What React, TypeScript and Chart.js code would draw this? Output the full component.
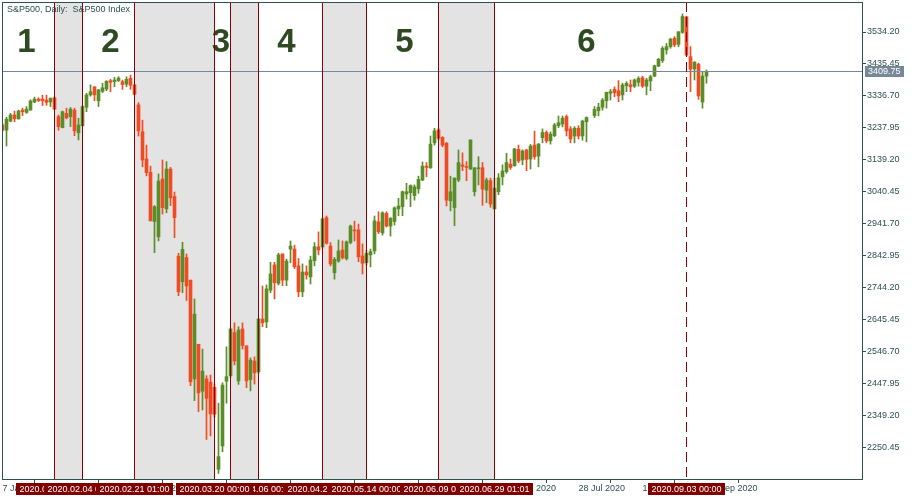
import { useEffect, useRef } from 'react';
import { Chart, registerables } from 'chart.js';

Chart.register(...registerables);

// ---- daily candles (index 0 = 7 Jan 2020, last = 10 Sep 2020) ----
const opens: (number | null)[] = [
  3247, 3231, 3259, 3278, 3266, 3293, 3286, 3293, 3318, 3327,
  3327, 3324, 3318, 3331, 3273, 3239, 3283, 3273, 3293, 3223,
  3245, 3302, 3340, 3365, 3322, 3351, 3358, 3384, 3381, 3384,
  3381, 3373, 3391, 3371, 3309, 3226, 3142, 3101, 2949, 2902,
  3080, 2988, 3111, 3026, 2842, 2763, 2838, 2768, 2463, 2570,
  2425, 2463, 2453, 2437, 2184, 2256, 2456, 2473, 2606, 2457,
  2617, 2565, 2461, 2518, 2485, 2648, 2639, 2737, 2815, 2758,
  2849, 2768, 2864, 2864, 2812, 2732, 2793, 2778, 2828, 2871,
  2871, 2961, 2873, 2791, 2827, 2861, 2834, 2884, 2923, 2923,
  2843, 2822, 2846, 2858, 2948, 2914, 2974, 2935, 2949, 2988,
  2995, 3034, 3038, 3029, 3050, 3077, 3120, 3115, 3192, 3232,
  3209, 3191, 3013, 2992, 3077, 3124, 3118, 3111, 3041, 3112,
  3115, 3046, 3075, 2988, 3041, 3087, 3103, 3126, 3121, 3172,
  3139, 3170, 3142, 3185, 3151, 3208, 3224, 3198, 3214, 3245,
  3250, 3273, 3235, 3213, 3237, 3213, 3257, null, 3276, 3291,
  3302, 3322, 3345, 3357, 3353, 3340, 3368, 3371, 3367, 3379,
  3393, 3367, 3383, 3398, 3429, 3446, 3479, 3489, 3515, 3496,
  3533, 3581, 3458, 3420, 3435, 3318, 3398,
];
const highs: (number | null)[] = [
  3252, 3271, 3283, 3290, 3293, 3299, 3304, 3325, 3333, 3331,
  3339, 3339, 3330, 3334, 3278, 3290, 3299, 3301, 3299, 3268,
  3306, 3345, 3371, 3365, 3357, 3376, 3384, 3388, 3394, 3396,
  3386, 3396, 3401, 3371, 3316, 3262, 3185, 3120, 2998, 3096,
  3139, 3134, 3116, 3040, 2851, 2885, 2849, 2768, 2710, 2570,
  2555, 2473, 2475, 2447, 2388, 2451, 2562, 2620, 2636, 2624,
  2636, 2565, 2528, 2531, 2650, 2750, 2753, 2823, 2823, 2851,
  2849, 2833, 2889, 2876, 2835, 2818, 2812, 2842, 2884, 2917,
  2960, 2966, 2884, 2838, 2892, 2889, 2889, 2938, 2950, 2941,
  2880, 2860, 2864, 2966, 2979, 2979, 2979, 2961, 2994, 3021,
  3043, 3067, 3062, 3062, 3089, 3133, 3131, 3213, 3237, 3237,
  3211, 3193, 3089, 3084, 3170, 3161, 3134, 3201, 3115, 3149,
  3131, 3083, 3083, 3083, 3097, 3124, 3160, 3142, 3175, 3185,
  3170, 3172, 3187, 3228, 3190, 3235, 3229, 3226, 3252, 3275,
  3275, 3278, 3242, 3242, 3245, 3262, 3272, null, 3304, 3314,
  3329, 3349, 3357, 3365, 3384, 3376, 3381, 3386, 3389, 3396,
  3398, 3391, 3401, 3432, 3453, 3489, 3499, 3515, 3520, 3535,
  3590, 3583, 3489, 3443, 3438, 3412, 3417,
];
const lows: (number | null)[] = [
  3228, 3182, 3257, 3257, 3265, 3276, 3283, 3293, 3316, 3319,
  3307, 3308, 3304, 3296, 3231, 3238, 3266, 3242, 3214, 3201,
  3243, 3288, 3336, 3322, 3304, 3347, 3353, 3350, 3365, 3381,
  3357, 3365, 3357, 3340, 3213, 3118, 3090, 2951, 2853, 2889,
  2972, 2976, 2998, 2899, 2720, 2729, 2705, 2442, 2396, 2362,
  2367, 2276, 2287, 2345, 2171, 2238, 2388, 2467, 2506, 2446,
  2555, 2436, 2426, 2447, 2480, 2624, 2621, 2729, 2710, 2753,
  2751, 2751, 2822, 2804, 2717, 2717, 2771, 2756, 2812, 2846,
  2866, 2879, 2812, 2771, 2823, 2833, 2830, 2880, 2889, 2825,
  2787, 2815, 2809, 2849, 2912, 2907, 2932, 2904, 2938, 2967,
  2967, 3018, 2995, 3015, 3036, 3075, 3087, 3113, 3185, 3200,
  3180, 2997, 2982, 2936, 3072, 3106, 3075, 3110, 3028, 3062,
  2999, 3007, 2993, 2988, 3032, 3062, 3098, 3110, 3120, 3131,
  3124, 3106, 3111, 3141, 3118, 3192, 3192, 3188, 3211, 3239,
  3241, 3213, 3192, 3192, 3204, 3200, 3195, null, 3270, 3275,
  3293, 3299, 3324, 3334, 3319, 3324, 3350, 3350, 3363, 3367,
  3363, 3340, 3353, 3396, 3427, 3440, 3466, 3484, 3489, 3489,
  3530, 3461, 3350, 3386, 3326, 3299, 3376,
];
const closes: (number | null)[] = [
  3231, 3265, 3278, 3266, 3290, 3288, 3296, 3321, 3327, 3323,
  3322, 3317, 3330, 3296, 3242, 3288, 3269, 3296, 3229, 3247,
  3304, 3340, 3350, 3340, 3355, 3362, 3382, 3379, 3386, 3392,
  3372, 3388, 3370, 3342, 3229, 3139, 3100, 2951, 2995, 3074,
  2992, 3111, 3022, 2961, 2732, 2863, 2750, 2454, 2663, 2420,
  2487, 2403, 2355, 2354, 2223, 2444, 2470, 2617, 2518, 2614,
  2566, 2457, 2521, 2482, 2648, 2636, 2741, 2787, 2760, 2846,
  2768, 2827, 2873, 2809, 2732, 2793, 2784, 2830, 2871, 2861,
  2957, 2882, 2818, 2832, 2858, 2837, 2886, 2935, 2920, 2840,
  2820, 2851, 2856, 2951, 2917, 2976, 2935, 2959, 2991, 2997,
  3041, 3041, 3060, 3056, 3079, 3120, 3116, 3188, 3229, 3206,
  3185, 3015, 3041, 3083, 3131, 3119, 3116, 3201, 3115, 3114,
  3049, 3077, 3003, 3052, 3084, 3105, 3131, 3116, 3173, 3136,
  3167, 3141, 3182, 3149, 3188, 3224, 3198, 3219, 3247, 3254,
  3268, 3229, 3204, 3237, 3213, 3259, 3270, null, 3295, 3302,
  3324, 3348, 3350, 3347, 3337, 3371, 3376, 3365, 3386, 3391,
  3367, 3386, 3396, 3430, 3450, 3484, 3489, 3512, 3494, 3535,
  3582, 3463, 3419, 3441, 3337, 3398, 3409.75,
];

// ---- time axis ----
const xTickIdx = [0, 16, 32, 48, 64, 80, 96, 112, 128, 144, 160, 176];
const xTickLabels = [
  '7 Jan 2020', '29 Jan 2020', '20 Feb 2020', '13 Mar 2020', '6 Apr 2020', '29 Apr 2020',
  '21 May 2020', '12 Jun 2020', '6 Jul 2020', '28 Jul 2020', '19 Aug 2020', '10 Sep 2020',
];

// ---- price axis ----
const yTicks = [
  2250.45, 2349.2, 2447.95, 2546.7, 2645.45, 2744.2, 2842.95,
  2941.7, 3040.45, 3139.2, 3237.95, 3336.7, 3435.45, 3534.2,
];

// ---- vertical marker lines ----
const eventIdx = [13, 20, 33, 53, 57, 64, 80, 91, 109, 123, 171];
const eventLabels = [
  '2020.01.24 00:00', '2020.02.04 00:00', '2020.02.21 01:00', '2020.03.20 00:00',
  '2020.03.26 00:00', '2020.04.06 00:00', '2020.04.29 00:00', '2020.05.14 00:00',
  '2020.06.09 00:00', '2020.06.29 01:01', '2020.09.03 00:00',
];
const eventDashed = [false, false, false, false, false, false, false, false, false, false, true];
const labelDrawOrder = [0, 1, 2, 4, 5, 3, 6, 7, 8, 9, 10];
const shadedPairs = [[13, 20], [33, 53], [57, 64], [80, 91], [109, 123]];

// ---- phase numbers ----
const phaseLabels = ['1', '2', '3', '4', '5', '6'];
const phaseIdx = [6, 27, 54.6, 71, 100.5, 146];
const phaseLevel = 3503;

const bidPrice = 3409.75;
const titleText = 'S&P500, Daily:  S&P500 Index';

const GREEN = '#5a8c28';
const RED = '#f04b23';
const AXIS = '#2f4f4f';
const FONT = '"Liberation Sans", Arial, sans-serif';

export default function App() {
  const ref = useRef<HTMLCanvasElement | null>(null);

  useEffect(() => {
    const canvas = ref.current;
    if (!canvas) return;
    const idx = opens.map((_, i) => i).filter((i) => opens[i] != null);
    const col = idx.map((i) => ((closes[i] as number) >= (opens[i] as number) ? GREEN : RED));

    const overlay = {
      id: 'overlay',
      beforeDatasetsDraw(chart: any) {
        const { ctx, chartArea: a, scales } = chart;
        const x = scales.x;
        const y = scales.y;
        ctx.save();
        ctx.fillStyle = '#e3e3e3';
        shadedPairs.forEach(([s, e]) => {
          const x0 = x.getPixelForValue(s);
          const x1 = x.getPixelForValue(e);
          ctx.fillRect(x0, a.top, x1 - x0, a.bottom - a.top);
        });
        ctx.fillStyle = '#2f4a22';
        ctx.font = 'bold 33px ' + FONT;
        ctx.textAlign = 'center';
        ctx.textBaseline = 'middle';
        phaseLabels.forEach((t, k) => {
          ctx.fillText(t, x.getPixelForValue(phaseIdx[k]), y.getPixelForValue(phaseLevel) + 1);
        });
        ctx.fillStyle = AXIS;
        ctx.font = '9px ' + FONT;
        ctx.textAlign = 'left';
        ctx.fillText(titleText, a.left + 5, a.top + 8);
        ctx.restore();
      },
      afterDatasetsDraw(chart: any) {
        const { ctx, chartArea: a, scales } = chart;
        const x = scales.x;
        const y = scales.y;
        ctx.save();
        // bid line
        const by = Math.round(y.getPixelForValue(bidPrice)) - 0.5;
        ctx.strokeStyle = '#778899';
        ctx.lineWidth = 1;
        ctx.beginPath();
        ctx.moveTo(a.left, by);
        ctx.lineTo(a.right, by);
        ctx.stroke();
        // event lines
        ctx.strokeStyle = '#8b0000';
        eventIdx.forEach((v, k) => {
          const px = Math.floor(x.getPixelForValue(v)) + 0.5;
          ctx.setLineDash(eventDashed[k] ? [10, 5] : []);
          ctx.beginPath();
          ctx.moveTo(px, a.top);
          ctx.lineTo(px, a.bottom);
          ctx.stroke();
        });
        ctx.setLineDash([]);
        // frame
        ctx.strokeStyle = AXIS;
        ctx.strokeRect(a.left + 0.5, a.top + 0.5, a.right - a.left, a.bottom - a.top);
        ctx.restore();
      },
      afterDraw(chart: any) {
        const { ctx, chartArea: a, scales } = chart;
        const x = scales.x;
        const y = scales.y;
        ctx.save();
        ctx.font = '9px ' + FONT;
        ctx.textAlign = 'center';
        ctx.textBaseline = 'middle';
        labelDrawOrder.forEach((k) => {
          const px = Math.floor(x.getPixelForValue(eventIdx[k])) + 0.5;
          const w = Math.round(ctx.measureText(eventLabels[k]).width + 7);
          ctx.fillStyle = '#800000';
          ctx.fillRect(Math.round(px - w / 2), a.bottom + 4, w, 12);
          ctx.fillStyle = '#ffffff';
          ctx.fillText(eventLabels[k], px, a.bottom + 10.5);
        });
        // bid price box
        const by = Math.round(y.getPixelForValue(bidPrice)) - 1;
        const txt = bidPrice.toFixed(2);
        const w = Math.round(ctx.measureText(txt).width + 6);
        ctx.fillStyle = '#778899';
        ctx.fillRect(a.right + 3, by - 5, w, 11);
        ctx.fillStyle = '#ffffff';
        ctx.textAlign = 'left';
        ctx.fillText(txt, a.right + 6, by + 0.5);
        ctx.restore();
      },
    };

    const chart = new Chart(canvas, {
      type: 'bar',
      data: {
        datasets: [
          {
            data: idx.map((i) => ({ x: i, y: [lows[i], highs[i]] })) as any,
            backgroundColor: col,
            barThickness: 1,
            grouped: false,
            order: 2,
          } as any,
          {
            data: idx.map((i) => ({ x: i, y: [opens[i], closes[i]] })) as any,
            backgroundColor: col,
            barThickness: 3,
            minBarLength: 1,
            grouped: false,
            order: 1,
          } as any,
        ],
      },
      options: {
        animation: false,
        responsive: false,
        devicePixelRatio: 1,
        layout: { padding: { left: 2, top: 2, right: 0, bottom: 0 } },
        plugins: { legend: { display: false }, tooltip: { enabled: false } },
        scales: {
          x: {
            type: 'linear',
            position: 'bottom',
            min: -0.125,
            max: 214.875,
            offset: false,
            grid: { drawOnChartArea: false, drawTicks: true, tickLength: 4, color: AXIS },
            border: { display: false },
            afterBuildTicks: (s: any) => {
              s.ticks = xTickIdx.map((v) => ({ value: v }));
            },
            afterFit: (s: any) => {
              s.height = 21;
              s.paddingLeft = 0;
              s.paddingRight = 0;
            },
            ticks: {
              autoSkip: false,
              maxRotation: 0,
              minRotation: 0,
              align: 'start',
              padding: 0,
              color: AXIS,
              font: { family: FONT, size: 9 },
              callback: (v: any) => {
                const k = xTickIdx.indexOf(Number(v));
                return k >= 0 ? xTickLabels[k] : '';
              },
            },
          } as any,
          y: {
            type: 'linear',
            position: 'right',
            min: 3534.2 - 447 * 3.0879,
            max: 3534.2 + 30 * 3.0879,
            grid: { drawOnChartArea: false, drawTicks: true, tickLength: 4, color: AXIS },
            border: { display: false },
            afterBuildTicks: (s: any) => {
              s.ticks = yTicks.map((v) => ({ value: v }));
            },
            afterFit: (s: any) => {
              s.width = 53;
              s.paddingTop = 0;
              s.paddingBottom = 0;
            },
            ticks: {
              padding: 1,
              color: AXIS,
              font: { family: FONT, size: 9 },
              callback: (v: any) => Number(v).toFixed(2),
            },
          } as any,
        },
      },
      plugins: [overlay],
    });
    return () => chart.destroy();
  }, []);

  return (
    <div style={{ position: 'fixed', left: 0, top: 0, width: 915, height: 500, background: '#fff' }}>
      <canvas ref={ref} width={915} height={500} style={{ width: 915, height: 500, display: 'block' }} />
    </div>
  );
}
